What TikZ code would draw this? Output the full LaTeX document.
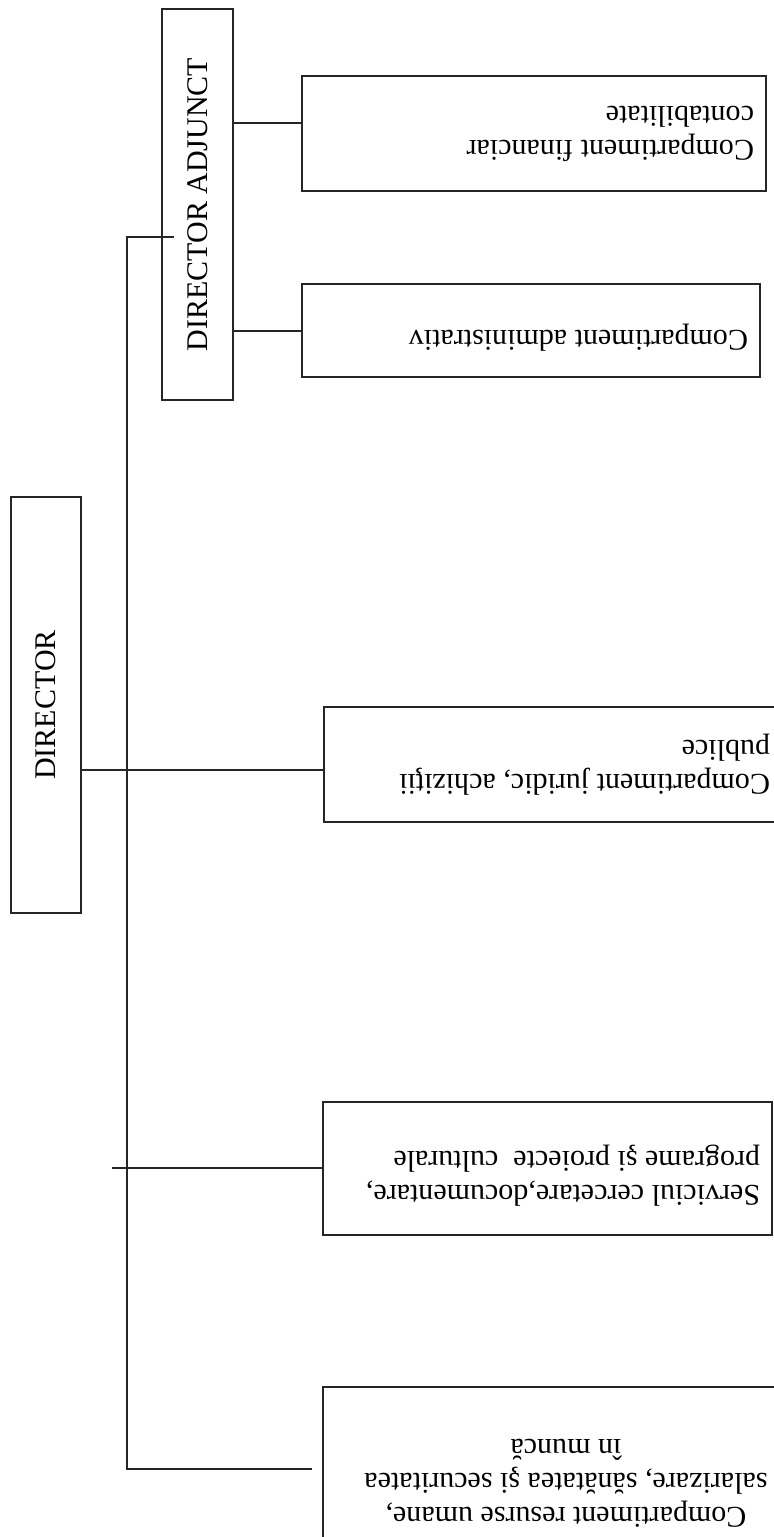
\documentclass[tikz,border=0pt]{standalone}
\usepackage{fontspec}
\setmainfont{Liberation Serif}
\usetikzlibrary{positioning}

\tikzset{
  box/.style={draw=black!85, line width=0.9pt, inner sep=0pt,
              font=\fontsize{15}{17}\selectfont},
  wire/.style={draw=black!85, line width=0.9pt},
}
% upside-down text block, reading-left aligned
\newcommand{\flipl}[2]{\rotatebox{180}{\parbox{#1}{\raggedright #2}}}
% upside-down text block, centred
\newcommand{\flipc}[2]{\rotatebox{180}{\parbox{#1}{\centering #2}}}
% extra room under the last line, pushes flipped text down the page
\newcommand{\lowpad}{\rule[-10pt]{0pt}{0pt}}

\begin{document}
\begin{tikzpicture}[x=0.5pt, y=-0.5pt]
\fill[white] (0,0) rectangle (773,1537);
\useasboundingbox (0,0) rectangle (773,1537);

\node[box, minimum width=35.5pt, minimum height=195.5pt] (adjunct) at (197.5,204.5)
  {\rotatebox{90}{DIRECTOR ADJUNCT}};
\node[box, minimum width=35pt, minimum height=208pt] (director) at (46,705)
  {\rotatebox{90}{DIRECTOR}};

\node[box, minimum width=232pt, minimum height=57.5pt] (financiar) at (534,133.5)
  {\flipl{220pt}{Compartiment financiar\\contabilitate}};
\node[box, minimum width=229pt, minimum height=46.5pt] (administrativ) at (531,330.5)
  {\flipl{217pt}{Compartiment administrativ\lowpad}};
\node[box, minimum width=230.5pt, minimum height=57.5pt] (juridic) at (554.5,764.5)
  {\flipl{215.5pt}{Compartiment juridic, achiziţii\\publice}};
\node[box, minimum width=224.5pt, minimum height=66.5pt] (cercetare) at (547.5,1168.5)
  {\flipl{212.5pt}{Serviciul cercetare,documentare,\\programe şi proiecte~ culturale\lowpad}};
\node[box, minimum width=243pt, minimum height=96pt] (resurse) at (566,1483)
  {\flipc{230pt}{Compartiment resurse umane,\\salarizare, sănătatea şi securitatea\\în muncă}};

% adjunct branches
\draw[wire] (adjunct.east |- 0,123) -- (financiar.west |- 0,123);
\draw[wire] (adjunct.east |- 0,331) -- (administrativ.west |- 0,331);

% main bus
\coordinate (bustop) at (127,237);
\coordinate (busend) at (127,1469);
\draw[wire] ([xshift=6.5pt]adjunct.west |- bustop) -- (bustop) -- (busend) -- ++(185,0);
\draw[wire] (director.east |- 0,770) -- (juridic.west |- 0,770);
\draw[wire] (cercetare.west |- 0,1168) -- ++(-210,0);

\end{tikzpicture}
\end{document}
